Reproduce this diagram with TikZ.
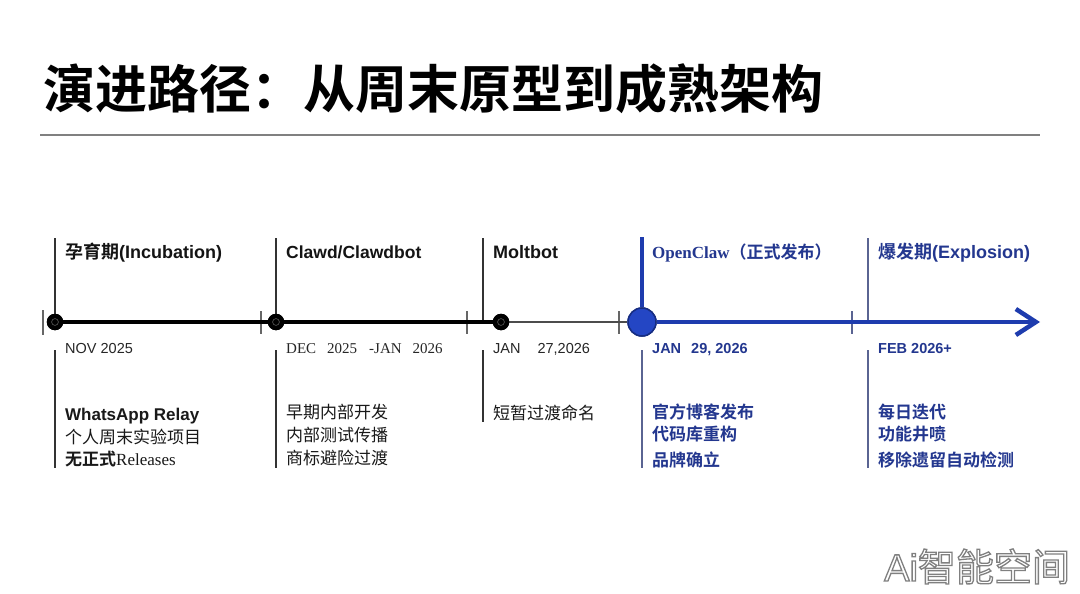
\documentclass[tikz,border=0pt]{standalone}
\usepackage{fontspec}
\setmainfont{Liberation Sans}
\newfontfamily\cjk{Noto Sans CJK SC}[BoldFont={Noto Sans CJK SC Bold}]
\newfontfamily\serifx{Liberation Serif}
\usetikzlibrary{arrows.meta}
\definecolor{navy}{HTML}{23378F}
\definecolor{lineblue}{HTML}{1E3CAE}
\definecolor{dotblue}{HTML}{2446C4}
\definecolor{greyblue}{HTML}{5A6492}
\tikzset{
 hdr/.style={anchor=base west, inner sep=0, font=\bfseries\fontsize{18}{20}\selectfont, text=black!92},
 datet/.style={anchor=base west, inner sep=0, font=\fontsize{14.5}{16}\selectfont, text=black!85},
 bodyt/.style={anchor=base west, inner sep=0, font=\cjk\fontsize{17}{20}\selectfont, text=black!90},
 bdot/.style={circle, fill=black, minimum size=16.5pt, inner sep=0,
   path picture={\draw[black!55, line width=0.5pt] (path picture bounding box.center) circle (3.4pt);}},
 bludot/.style={circle, fill=dotblue, draw=lineblue!75!black, line width=1.5pt, minimum size=28pt, inner sep=0},
 vline/.style={draw=black!80, line width=1.1pt},
 bvline/.style={draw=greyblue, line width=1.1pt},
 tickmk/.style={draw=black!60, line width=1.1pt},
 wm/.style={anchor=base west, inner sep=0, font=\fontsize{38}{40}\selectfont},
}
\begin{document}
\begin{tikzpicture}[x=1pt,y=-1pt]
\useasboundingbox[fill=white] (0,0) rectangle (1080,594);

% title
\node[anchor=base west, inner sep=0, font=\cjk\bfseries\fontsize{52}{56}\selectfont] (title) at (43,108) {演进路径：从周末原型到成熟架构};
\coordinate (rl) at (40,135);
\coordinate (rr) at (1040,135);
\draw[black!50, line width=1.2pt] (rl) -- (rr);

% timeline nodes
\node[bdot] (d1) at (55,322) {};
\node[bdot] (d2) at (276,322) {};
\node[bdot] (d3) at (501,322) {};
\node[bludot] (d4) at (642,322) {};
\coordinate (tip) at (1040,322);

% ticks
\draw[tickmk] (43,310) -- (43,335);
\draw[tickmk] (261,311) -- (261,334);
\draw[tickmk] (467,311) -- (467,334);
\draw[tickmk] (619,311) -- (619,334);
\draw[bvline] (852,311) -- (852,334);

% vertical guide lines
\coordinate (t1) at (55,238); \coordinate (b1a) at (55,350); \coordinate (b1b) at (55,468);
\coordinate (t2) at (276,238); \coordinate (b2a) at (276,350); \coordinate (b2b) at (276,468);
\coordinate (t3) at (483,238); \coordinate (t3b) at (483,322); \coordinate (b3a) at (483,350); \coordinate (b3b) at (483,422);
\coordinate (t4) at (642,237); \coordinate (b4a) at (642,350); \coordinate (b4b) at (642,468);
\coordinate (t5) at (868,238); \coordinate (t5b) at (868,322); \coordinate (b5a) at (868,350); \coordinate (b5b) at (868,468);
\draw[vline] (t1) -- (d1.center) (b1a) -- (b1b);
\draw[vline] (t2) -- (d2.center) (b2a) -- (b2b);
\draw[vline] (t3) -- (t3b) (b3a) -- (b3b);
\draw[bvline] (b4a) -- (b4b);
\draw[bvline] (t5) -- (t5b) (b5a) -- (b5b);

% timeline connectors
\draw[black, line width=4.7pt] (d1.center) -- (d2.center);
\draw[black, line width=4.7pt] (d2.center) -- (d3.center);
\draw[black!70, line width=1.3pt] (d3) -- (d4);
\draw[lineblue, line width=4.5pt, -{Straight Barb[length=20pt, width=26pt, line width=4.5pt]}] (d4) -- (tip);
\draw[lineblue, line width=4.5pt] (t4) -- (d4.north);
\node[bdot] at (d1) {};
\node[bdot] at (d2) {};
\node[bdot] at (d3) {};
\node[bludot] at (d4) {};

% headers
\node[hdr] (h1) at (65,258.5) {{\cjk\bfseries 孕育期}(Incubation)};
\node[hdr, font=\bfseries\fontsize{17.5}{20}\selectfont] (h2) at (286,258.5) {Clawd/Clawdbot};
\node[hdr] (h3) at (493,258.5) {Moltbot};
\node[hdr, text=navy, font=\fontsize{17}{20}\selectfont] (h4) at (652,258.5) {{\serifx\bfseries OpenClaw}{\cjk\bfseries （正式发布）}};
\node[hdr, text=navy] (h5) at (878,258.5) {{\cjk\bfseries 爆发期}(Explosion)};

% dates
\node[datet] (dt1) at (65,353) {NOV 2025};
\node[datet, font=\serifx\fontsize{15}{16}\selectfont] (dt2) at (286,353) {DEC\hspace{11pt}2025\hspace{12pt}-JAN\hspace{11pt}2026};
\node[datet] (dt3) at (493,353) {JAN\hspace{17pt}27,2026};
\node[datet, text=navy, font=\bfseries\fontsize{14.5}{16}\selectfont] (dt4) at (652,353) {JAN\hspace{10pt}29, 2026};
\node[datet, text=navy, font=\bfseries\fontsize{14.5}{16}\selectfont] (dt5) at (878,353) {FEB 2026+};

% body column 1
\node[bodyt, font=\bfseries\fontsize{17}{20}\selectfont] (c1a) at (65,420) {WhatsApp Relay};
\node[bodyt] (c1b) at (65,443) {个人周末实验项目};
\node[bodyt] (c1c) at (65,465.5) {{\bfseries 无正式}{\serifx Releases}};
% column 2
\node[bodyt] (c2a) at (286,418) {早期内部开发};
\node[bodyt] (c2b) at (286,441) {内部测试传播};
\node[bodyt] (c2c) at (286,464) {商标避险过渡};
% column 3
\node[bodyt] (c3a) at (493,419) {短暂过渡命名};
% column 4
\node[bodyt, text=navy, font=\cjk\bfseries\fontsize{17}{20}\selectfont] (c4a) at (652,418) {官方博客发布};
\node[bodyt, text=navy, font=\cjk\bfseries\fontsize{17}{20}\selectfont] (c4b) at (652,440) {代码库重构};
\node[bodyt, text=navy, font=\cjk\bfseries\fontsize{17}{20}\selectfont] (c4c) at (652,466) {品牌确立};
% column 5
\node[bodyt, text=navy, font=\cjk\bfseries\fontsize{17}{20}\selectfont] (c5a) at (878,418) {每日迭代};
\node[bodyt, text=navy, font=\cjk\bfseries\fontsize{17}{20}\selectfont] (c5b) at (878,440) {功能井喷};
\node[bodyt, text=navy, font=\cjk\bfseries\fontsize{17}{20}\selectfont] (c5c) at (878,466) {移除遗留自动检测};

% watermark (outlined text)
\node[wm, text=white] (wmark) at (884,581) {\special{pdf:literal direct 2 Tr 1.3 w 0.5 0.5 0.5 RG}Ai{\cjk 智能空间}\special{pdf:literal direct 0 Tr}};
\end{tikzpicture}
\end{document}
